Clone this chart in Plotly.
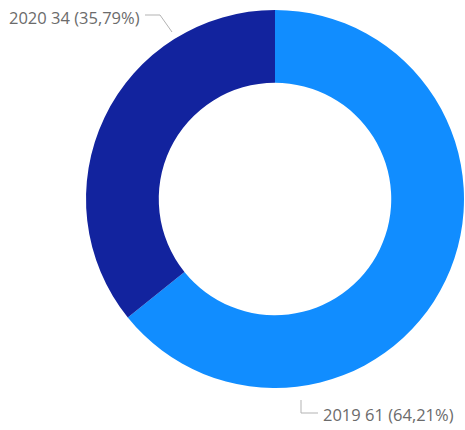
import plotly.graph_objects as go

# Yearly totals shown in the donut
years = ["2019", "2020"]
counts = [61, 34]
colors = ["#118DFF", "#12239E"]

W, H = 465, 430
total = sum(counts)
pct = [c / total * 100 for c in counts]
label_text = [f"{y} {c} ({p:.2f}%)".replace(".", ",") for y, c, p in zip(years, counts, pct)]


def px(x):
    return x / W


def py(y):
    return 1 - y / H


# Ring geometry in pixels
cx, cy, r = 275, 199, 189

fig = go.Figure(
    go.Pie(
        labels=years,
        values=counts,
        hole=0.615,
        sort=False,
        direction="clockwise",
        rotation=0,
        marker=dict(colors=colors, line=dict(width=0)),
        textinfo="none",
        hoverinfo="label+value+percent",
        domain=dict(x=[px(cx - r), px(cx + r)], y=[py(cy + r), py(cy - r)]),
        showlegend=False,
    )
)

line_style = dict(color="#B3B3B3", width=1)

# Leader line for 2020 (upper left)
fig.add_shape(type="path", xref="paper", yref="paper",
              path=f"M {px(145)},{py(15)} L {px(160)},{py(15)} L {px(172)},{py(32)}",
              line=line_style)
# Leader line for 2019 (bottom)
fig.add_shape(type="path", xref="paper", yref="paper",
              path=f"M {px(301)},{py(400)} L {px(301)},{py(413)} L {px(318)},{py(413)}",
              line=line_style)

font = dict(family="Open Sans, Segoe UI, sans-serif", size=16.5, color="#6b6b6b")
fig.add_annotation(x=px(142), y=py(17), xref="paper", yref="paper",
                   text=label_text[1], showarrow=False, xanchor="right", yanchor="middle", font=font)
fig.add_annotation(x=px(321), y=py(414), xref="paper", yref="paper",
                   text=label_text[0], showarrow=False, xanchor="left", yanchor="middle", font=font)

fig.update_layout(
    width=W, height=H,
    margin=dict(l=0, r=0, t=0, b=0),
    paper_bgcolor="white",
    plot_bgcolor="white",
)

fig.write_html("out.html")
